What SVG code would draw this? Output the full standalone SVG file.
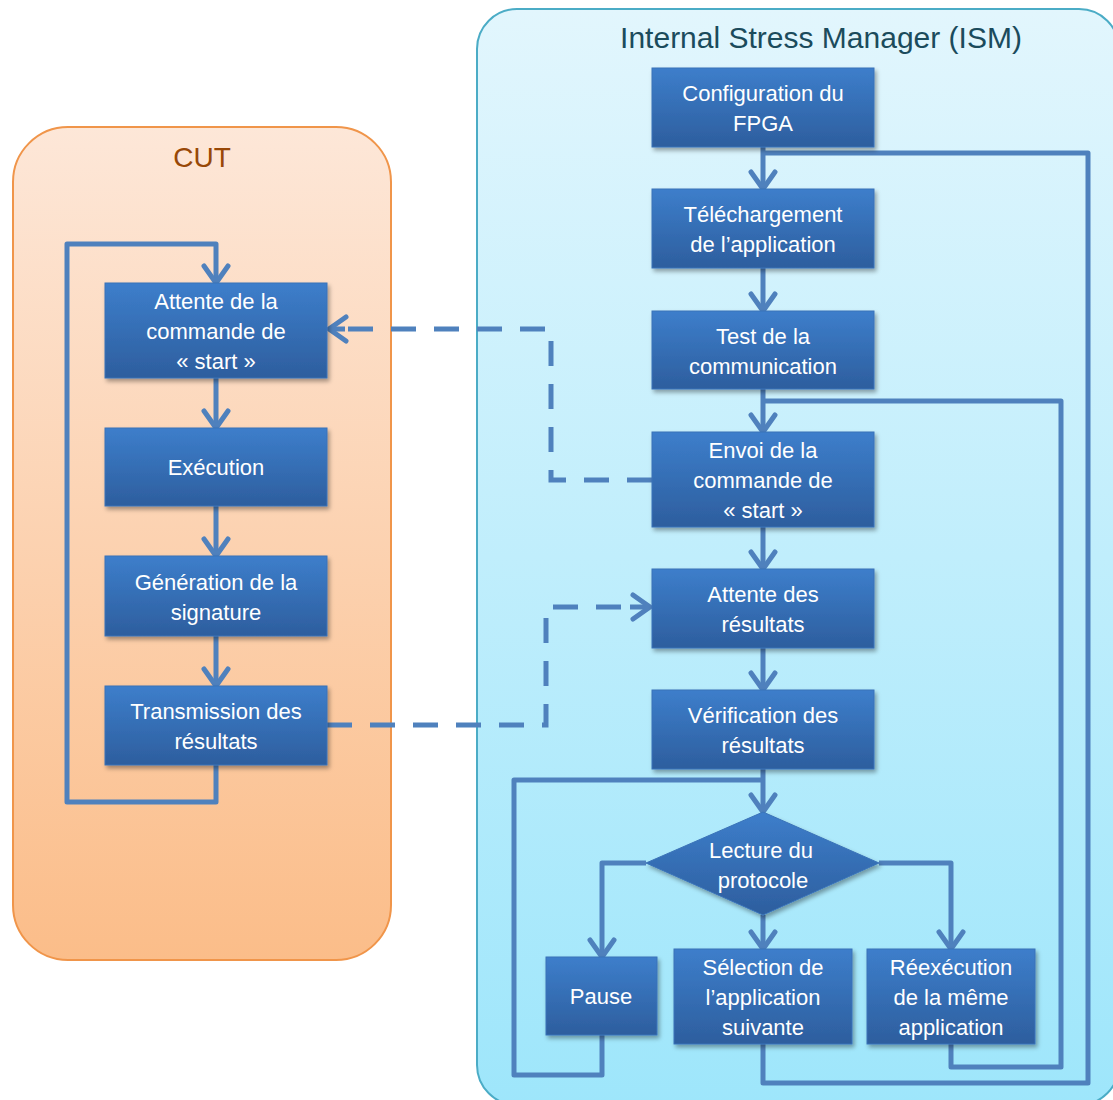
<svg xmlns="http://www.w3.org/2000/svg" width="1113" height="1100" viewBox="0 0 1113 1100">
<defs>
<linearGradient id="gCut" x1="0" y1="0" x2="0" y2="1"><stop offset="0" stop-color="#fde7d8"/><stop offset="1" stop-color="#fbbd89"/></linearGradient>
<linearGradient id="gIsm" x1="0" y1="0" x2="0" y2="1"><stop offset="0" stop-color="#e2f6fd"/><stop offset="1" stop-color="#9ee6fb"/></linearGradient>
<linearGradient id="gBox" x1="0" y1="0" x2="0" y2="1"><stop offset="0" stop-color="#3d7ecb"/><stop offset="1" stop-color="#2d5e9e"/></linearGradient>
<filter id="sh" x="-10%" y="-10%" width="130%" height="140%"><feDropShadow dx="2" dy="3" stdDeviation="2" flood-color="#000" flood-opacity="0.35"/></filter>
<marker id="ar" viewBox="-22 -16 26 32" refX="0" refY="0" markerWidth="26" markerHeight="32" markerUnits="userSpaceOnUse" orient="auto" overflow="visible">
<path d="M-17,-12 L0,0 L-17,12" fill="none" stroke="#4f81bd" stroke-width="5" stroke-linecap="round" stroke-linejoin="round"/>
</marker>
</defs>
<style>
.box{fill:url(#gBox);stroke:#3a73b8;stroke-width:1;filter:url(#sh)}
.t{font-family:"Liberation Sans",Arial,sans-serif;font-size:22px;fill:#ffffff;text-anchor:middle}
.c{fill:none;stroke:#4f81bd;stroke-width:5;stroke-linejoin:round}
.a{marker-end:url(#ar)}
.d{fill:none;stroke:#4f81bd;stroke-width:5;stroke-dasharray:25 18}
.title{font-family:"Liberation Sans",Arial,sans-serif;text-anchor:middle}
</style>
<g id="cut-container">
<rect x="13" y="127" width="378" height="833" rx="55" fill="url(#gCut)" stroke="#f0954a" stroke-width="2"/>
<text class="title" x="202" y="167" font-size="28" fill="#984807">CUT</text>
</g>
<g id="ism-container">
<rect x="477" y="9" width="642" height="1096" rx="40" fill="url(#gIsm)" stroke="#4bacc6" stroke-width="2"/>
<text class="title" x="821" y="48" font-size="30" fill="#1b4b5c">Internal Stress Manager (ISM)</text>
</g>
<g id="connectors">
<path class="c a" d="M216,765 V802 H67 V244 H216 V283"/>
<path class="c a" d="M216,378 V428"/>
<path class="c a" d="M216,506 V556"/>
<path class="c a" d="M216,636 V686"/>
<path class="c a" d="M763,147 V189"/>
<path class="c" d="M763,153 H1088 V1083 H763 V1044"/>
<path class="c a" d="M763,268 V311"/>
<path class="c a" d="M763,389 V432"/>
<path class="c" d="M763,401 H1061 V1067 H951 V1044"/>
<path class="c a" d="M763,527 V569"/>
<path class="c a" d="M763,648 V690"/>
<path class="c a" d="M763,769 V812"/>
<path class="c" d="M602,1035 V1075 H514 V780 H763"/>
<path class="c a" d="M646,863 H602 V957"/>
<path class="c a" d="M879,863 H951 V949"/>
<path class="c a" d="M763,915 V949"/>
<path class="d" d="M652,480 H551 V329 H345"/>
<path class="c a" d="M345,329 H329"/>
<path class="d" d="M327,725 H546 V607 H630"/>
<path class="c a" d="M630,607 H650"/>
</g>
<g id="n-attente-start"><rect class="box" x="105" y="283" width="222" height="95"/><text class="t" x="216" y="309">Attente de la</text><text class="t" x="216" y="339">commande de</text><text class="t" x="216" y="369">« start »</text></g>
<g id="n-execution"><rect class="box" x="105" y="428" width="222" height="78"/><text class="t" x="216" y="475">Exécution</text></g>
<g id="n-generation"><rect class="box" x="105" y="556" width="222" height="80"/><text class="t" x="216" y="590">Génération de la</text><text class="t" x="216" y="620">signature</text></g>
<g id="n-transmission"><rect class="box" x="105" y="686" width="222" height="79"/><text class="t" x="216" y="719">Transmission des</text><text class="t" x="216" y="749">résultats</text></g>
<g id="n-config"><rect class="box" x="652" y="68" width="222" height="79"/><text class="t" x="763" y="101">Configuration du</text><text class="t" x="763" y="131">FPGA</text></g>
<g id="n-telechargement"><rect class="box" x="652" y="189" width="222" height="79"/><text class="t" x="763" y="222">Téléchargement</text><text class="t" x="763" y="252">de l’application</text></g>
<g id="n-test"><rect class="box" x="652" y="311" width="222" height="78"/><text class="t" x="763" y="344">Test de la</text><text class="t" x="763" y="374">communication</text></g>
<g id="n-envoi"><rect class="box" x="652" y="432" width="222" height="95"/><text class="t" x="763" y="458">Envoi de la</text><text class="t" x="763" y="488">commande de</text><text class="t" x="763" y="518">« start »</text></g>
<g id="n-attente-resultats"><rect class="box" x="652" y="569" width="222" height="79"/><text class="t" x="763" y="602">Attente des</text><text class="t" x="763" y="632">résultats</text></g>
<g id="n-verification"><rect class="box" x="652" y="690" width="222" height="79"/><text class="t" x="763" y="723">Vérification des</text><text class="t" x="763" y="753">résultats</text></g>
<g id="n-lecture"><path class="box" d="M763,812 L879,863 L763,915 L646,863 Z"/><text class="t" x="761" y="858">Lecture du</text><text class="t" x="763" y="888">protocole</text></g>
<g id="n-pause"><rect class="box" x="546" y="957" width="111" height="78"/><text class="t" x="601" y="1004">Pause</text></g>
<g id="n-selection"><rect class="box" x="674" y="949" width="178" height="95"/><text class="t" x="763" y="975">Sélection de</text><text class="t" x="763" y="1005">l’application</text><text class="t" x="763" y="1035">suivante</text></g>
<g id="n-reexecution"><rect class="box" x="867" y="949" width="168" height="95"/><text class="t" x="951" y="975">Réexécution</text><text class="t" x="951" y="1005">de la même</text><text class="t" x="951" y="1035">application</text></g>
</svg>
